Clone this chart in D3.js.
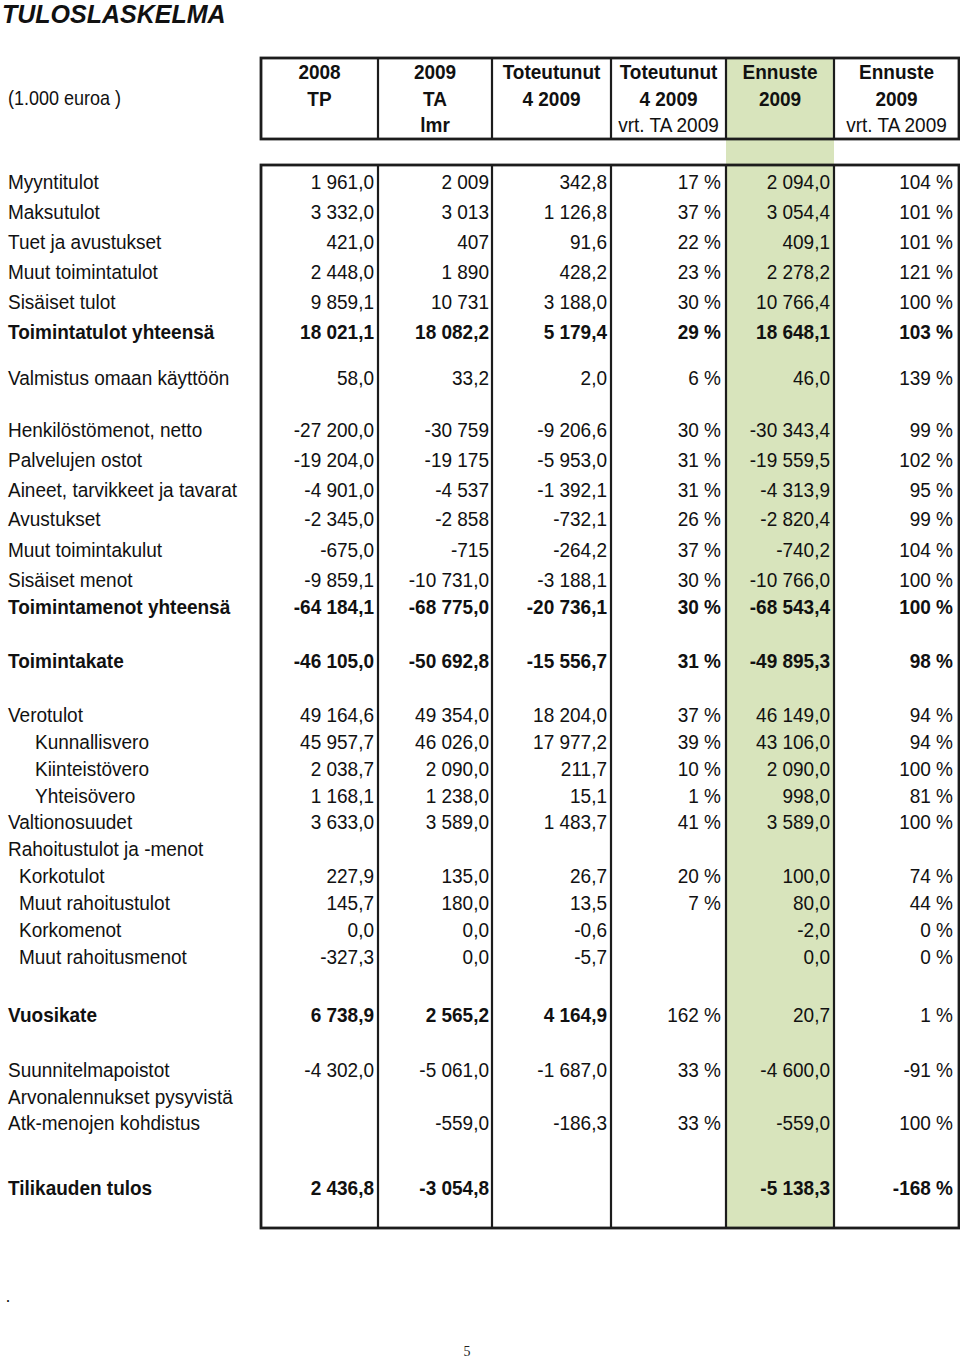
<!DOCTYPE html>
<html>
<head>
<meta charset="utf-8">
<script src="https://cdn.jsdelivr.net/npm/d3@7"></script>
<style>
  html, body { margin: 0; padding: 0; background: #fff; }
  svg { display: block; }
</style>
</head>
<body>
<script>
// ---------------- DATA ----------------
const title = "TULOSLASKELMA";
const unitLabel = "(1.000 euroa )";
const columnHeaders = [
  ["2008", "TP"],
  ["2009", "TA", "lmr"],
  ["Toteutunut", "4 2009"],
  ["Toteutunut", "4 2009", "vrt. TA 2009"],
  ["Ennuste", "2009"],
  ["Ennuste", "2009", "vrt. TA 2009"]
];
const rowLabels = [
  "Myyntitulot", "Maksutulot", "Tuet ja avustukset", "Muut toimintatulot", "Sisäiset tulot",
  "Toimintatulot yhteensä",
  "Valmistus omaan käyttöön",
  "Henkilöstömenot, netto", "Palvelujen ostot", "Aineet, tarvikkeet ja tavarat", "Avustukset",
  "Muut toimintakulut", "Sisäiset menot", "Toimintamenot yhteensä",
  "Toimintakate",
  "Verotulot", "Kunnallisvero", "Kiinteistövero", "Yhteisövero", "Valtionosuudet",
  "Rahoitustulot ja -menot", "Korkotulot", "Muut rahoitustulot", "Korkomenot", "Muut rahoitusmenot",
  "Vuosikate",
  "Suunnitelmapoistot", "Arvonalennukset pysyvistä", "Atk-menojen kohdistus",
  "Tilikauden tulos"
];
const tp2008 = ["1 961,0","3 332,0","421,0","2 448,0","9 859,1","18 021,1","58,0","-27 200,0","-19 204,0","-4 901,0","-2 345,0","-675,0","-9 859,1","-64 184,1","-46 105,0","49 164,6","45 957,7","2 038,7","1 168,1","3 633,0","","227,9","145,7","0,0","-327,3","6 738,9","-4 302,0","","","2 436,8"];
const ta2009 = ["2 009","3 013","407","1 890","10 731","18 082,2","33,2","-30 759","-19 175","-4 537","-2 858","-715","-10 731,0","-68 775,0","-50 692,8","49 354,0","46 026,0","2 090,0","1 238,0","3 589,0","","135,0","180,0","0,0","0,0","2 565,2","-5 061,0","","-559,0","-3 054,8"];
const tot4 = ["342,8","1 126,8","91,6","428,2","3 188,0","5 179,4","2,0","-9 206,6","-5 953,0","-1 392,1","-732,1","-264,2","-3 188,1","-20 736,1","-15 556,7","18 204,0","17 977,2","211,7","15,1","1 483,7","","26,7","13,5","-0,6","-5,7","4 164,9","-1 687,0","","-186,3",""];
const tot4Pct = ["17 %","37 %","22 %","23 %","30 %","29 %","6 %","30 %","31 %","31 %","26 %","37 %","30 %","30 %","31 %","37 %","39 %","10 %","1 %","41 %","","20 %","7 %","","","162 %","33 %","","33 %",""];
const ennuste = ["2 094,0","3 054,4","409,1","2 278,2","10 766,4","18 648,1","46,0","-30 343,4","-19 559,5","-4 313,9","-2 820,4","-740,2","-10 766,0","-68 543,4","-49 895,3","46 149,0","43 106,0","2 090,0","998,0","3 589,0","","100,0","80,0","-2,0","0,0","20,7","-4 600,0","","-559,0","-5 138,3"];
const ennPct = ["104 %","101 %","101 %","121 %","100 %","103 %","139 %","99 %","102 %","95 %","99 %","104 %","100 %","100 %","98 %","94 %","94 %","100 %","81 %","100 %","","74 %","44 %","0 %","0 %","1 %","-91 %","","100 %","-168 %"];
const seriesCols = [tp2008, ta2009, tot4, tot4Pct, ennuste, ennPct];

// ---------------- LAYOUT / STYLE ----------------
const W = 960, H = 1359;
const font = "'Liberation Sans', Arial, sans-serif";
const fs = 19;
const vStretch = 1.09;
const lineColor = "#1c1c1c";
const green = "#d8e4bc";

const colEdges = [261, 378, 492, 611, 726, 834, 959];
const textPad = [4, 3, 4, 5, 4, 6];
const headerTop = 58, headerBottom = 139;
const bodyTop = 165, bodyBottom = 1228;
const headerLineY = [72, 98.5, 125];

// vertical step (px) before each row
const rowSteps = [0,30,30,30,30,30, 46, 52,30,30,29,31,30,27, 54, 54,27,27,27,26,27,27,27,27,27, 58, 55,27,26, 65];
const rowIndex = d3.range(rowLabels.length);
const cum = rowSteps.reduce((a, s, i) => { a.push((i ? a[i-1] : 0) + s); return a; }, []);
const yRow = d3.scaleLinear().domain([0, 1]).range([182, 183]);

const indentMap = { "Kunnallisvero": 35, "Kiinteistövero": 35, "Yhteisövero": 35,
  "Korkotulot": 19, "Muut rahoitustulot": 19, "Korkomenot": 19, "Muut rahoitusmenot": 19 };
const boldRows = new Set(["Toimintatulot yhteensä", "Toimintamenot yhteensä", "Toimintakate", "Tilikauden tulos"]);
const partialBold = { "Vuosikate": [true, true, true, false, false, false] };

const xCol = d3.scaleOrdinal().domain(d3.range(6)).range(d3.range(6).map(i => colEdges[i + 1] - textPad[i]));
const xColCenter = d3.scaleOrdinal().domain(d3.range(6)).range(d3.range(6).map(i => (colEdges[i] + colEdges[i + 1]) / 2));

const svg = d3.select("body").append("svg")
  .attr("width", W).attr("height", H)
  .style("font-family", font);

function stretchedText(parent, x, y, s) {
  return parent.append("text")
    .attr("transform", `translate(${x},${y}) scale(1,${s === undefined ? vStretch : s})`)
    .attr("fill", "#111");
}

// green column
svg.append("rect")
  .attr("x", colEdges[4]).attr("y", headerTop)
  .attr("width", colEdges[5] - colEdges[4]).attr("height", bodyBottom - headerTop)
  .attr("fill", green);

// title
svg.append("text").attr("x", 2).attr("y", 23)
  .attr("fill", "#111")
  .attr("font-size", 25).attr("font-weight", "bold").attr("font-style", "italic")
  .text(title);

stretchedText(svg, 8, headerLineY[1]).attr("dy", "0.35em")
  .attr("font-size", 18)
  .text(unitLabel);

// header texts
const hg = svg.append("g");
columnHeaders.forEach((lines, ci) => {
  lines.forEach((t, li) => {
    stretchedText(hg, xColCenter(ci), headerLineY[li])
      .attr("dy", "0.35em")
      .attr("text-anchor", "middle")
      .attr("font-size", fs)
      .attr("font-weight", t.startsWith("vrt.") ? "normal" : "bold")
      .text(t);
  });
});

// boxes
function drawBox(y0, y1) {
  const g = svg.append("g").attr("stroke", lineColor).attr("fill", "none");
  g.append("rect").attr("x", colEdges[0]).attr("y", y0)
    .attr("width", colEdges[6] - colEdges[0]).attr("height", y1 - y0)
    .attr("stroke-width", 2.8);
  g.selectAll("line").data(colEdges.slice(1, 6)).join("line")
    .attr("x1", d => d).attr("x2", d => d).attr("y1", y0).attr("y2", y1)
    .attr("stroke-width", 2.2);
}
drawBox(headerTop, headerBottom);
drawBox(bodyTop, bodyBottom);

// body rows
const rows = svg.append("g").selectAll("g").data(rowIndex).join("g")
  .attr("transform", i => `translate(0,${yRow(cum[i])}) scale(1,${vStretch})`);

rows.append("text")
  .attr("x", i => indentMap[rowLabels[i]] || 8)
  .attr("dy", "0.35em")
  .attr("font-size", fs)
  .attr("font-weight", i => (boldRows.has(rowLabels[i]) || partialBold[rowLabels[i]]) ? "bold" : "normal")
  .attr("fill", "#111")
  .text(i => rowLabels[i]);

seriesCols.forEach((col, ci) => {
  rows.append("text")
    .attr("x", xCol(ci))
    .attr("dy", "0.35em")
    .attr("text-anchor", "end")
    .attr("font-size", fs)
    .attr("font-weight", i => {
      const l = rowLabels[i];
      if (partialBold[l]) return partialBold[l][ci] ? "bold" : "normal";
      return boldRows.has(l) ? "bold" : "normal";
    })
    .attr("fill", "#111")
    .text(i => col[i]);
});

// footer marks
svg.append("text").attr("x", 6).attr("y", 1302)
  .attr("font-size", 16).attr("font-family", "'Liberation Serif', 'Times New Roman', serif")
  .text(".");
svg.append("text").attr("x", 467).attr("y", 1356).attr("text-anchor", "middle")
  .attr("font-size", 14).attr("font-family", "'Liberation Serif', 'Times New Roman', serif")
  .attr("fill", "#222")
  .text("5");
</script>
</body>
</html>
